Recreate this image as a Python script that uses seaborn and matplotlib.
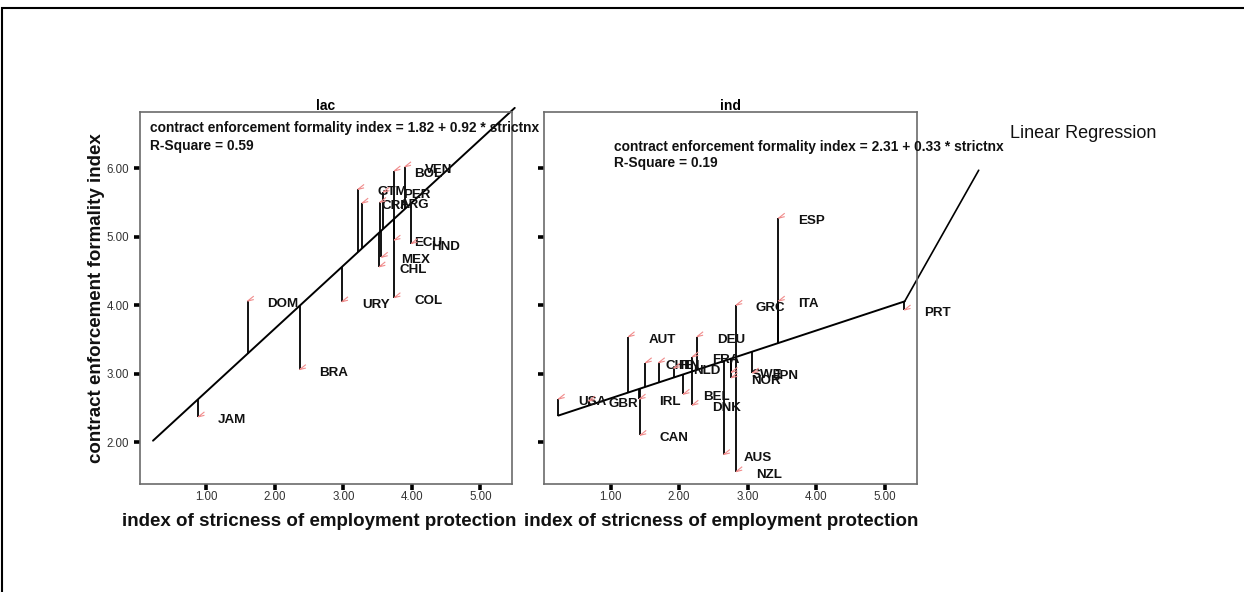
import numpy as np
import pandas as pd
import matplotlib
matplotlib.use("Agg")
import matplotlib.pyplot as plt
from matplotlib.path import Path
from matplotlib.patches import Rectangle
import seaborn as sns

# lac panel
lac_codes = ["JAM", "DOM", "BRA", "URY", "COL", "CHL", "MEX", "ECU", "HND",
             "ARG", "CRI", "GTM", "PER", "BOL", "VEN"]
lac_x = [0.88, 1.60, 2.36, 2.975, 3.74, 3.52, 3.555, 3.74, 3.99,
         3.53, 3.27, 3.21, 3.58, 3.74, 3.895]
lac_y = [2.37, 4.06, 3.06, 4.05, 4.11, 4.56, 4.70, 4.95, 4.90,
         5.50, 5.49, 5.69, 5.65, 5.96, 6.02]

# ind panel
ind_codes = ["USA", "GBR", "AUT", "IRL", "CAN", "CHE", "FIN", "NLD", "BEL",
             "FRA", "DNK", "DEU", "AUS", "NZL", "GRC", "SWE", "NOR", "JPN",
             "ITA", "ESP", "PRT"]
ind_x = [0.24, 0.68, 1.26, 1.42, 1.43, 1.51, 1.70, 1.92, 2.06,
         2.19, 2.19, 2.26, 2.65, 2.83, 2.83, 2.76, 2.76, 3.07,
         3.45, 3.45, 5.285]
ind_y = [2.63, 2.60, 3.54, 2.63, 2.10, 3.16, 3.16, 3.08, 2.70,
         3.245, 2.54, 3.54, 1.82, 1.57, 4.00, 3.02, 2.94, 3.01,
         4.06, 5.27, 3.93]

# regression: intercept, slope, r-square
lac_fit = [1.82, 0.92, 0.59]
ind_fit = [2.31, 0.33, 0.19]
lac_span = [0.22, 5.50]
ind_span = [0.24, 5.29]

ticks_x = [1, 2, 3, 4, 5]
ticks_y = [2, 3, 4, 5, 6]

sns.set_style("white")
plt.rcParams["font.family"] = ["Liberation Sans", "DejaVu Sans"]
plt.rcParams["text.color"] = "black"

W, H = 1244, 592
fig = plt.figure(figsize=(W / 100, H / 100), dpi=100)
ax1 = fig.add_axes([140 / W, 1 - 484 / H, 372 / W, 372 / H])
ax2 = fig.add_axes([544 / W, 1 - 484 / H, 373 / W, 372 / H], sharey=ax1)

pink = "#f08c8c"
mark = Path([(0, 0), (1, 0.8), (0, 0), (1, 0.25)],
            [Path.MOVETO, Path.LINETO, Path.MOVETO, Path.LINETO])

panels = [
    (ax1, "lac", lac_codes, lac_x, lac_y, lac_fit, lac_span, 0.027, 0.956, 0.048),
    (ax2, "ind", ind_codes, ind_x, ind_y, ind_fit, ind_span, 0.188, 0.907, 0.043),
]

for ax, name, codes, xs, ys, fit, span, tx, ty, gap in panels:
    df = pd.DataFrame({"x": xs, "y": ys, "code": codes})
    a, b, r2 = fit
    fitted = a + b * df["x"]

    # residual drop lines
    ax.vlines(df["x"], df["y"], fitted, colors="k", lw=1.3, zorder=2)

    # fit line
    sx = np.array(span)
    sns.lineplot(x=sx, y=a + b * sx, ax=ax, color="k", lw=1.4)
    ax.lines[-1].set_clip_on(False)

    sns.scatterplot(data=df, x="x", y="y", ax=ax, marker=mark, s=80,
                    color=pink, edgecolor=pink, linewidth=0.8, zorder=4)
    ax.collections[-1].set_facecolor("none")

    for c, x, y in zip(codes, xs, ys):
        ax.annotate(c, (x, y), xytext=(14.4, -2.2), textcoords="offset points",
                    fontsize=9.6, fontweight="bold", ha="left", va="center",
                    color="#111111")

    ax.text(tx, ty, f"contract enforcement formality index = {a:.2f} + {b:.2f} * strictnx",
            transform=ax.transAxes, fontsize=9.9, fontweight="bold", va="center",
            color="#111111")
    ax.text(tx, ty - gap, f"R-Square = {r2:.2f}", transform=ax.transAxes,
            fontsize=9.9, fontweight="bold", va="center", color="#111111")

    ax.set_title(name, fontsize=10, pad=1.5, fontweight="bold",
                 family=["Liberation Sans Narrow", "Liberation Sans"])
    ax.set_xlim(0.03, 5.46)
    ax.set_ylim(1.39, 6.82)
    ax.set_xticks(ticks_x)
    ax.set_xticklabels([f"{t:.2f}" for t in ticks_x])
    ax.set_yticks(ticks_y)
    ax.set_yticklabels([f"{t:.2f}" for t in ticks_y])
    ax.tick_params(axis="both", direction="out", length=4, width=2.6,
                   color="k", labelcolor="#333333", labelsize=8.3,
                   bottom=True, left=True)
    ax.tick_params(axis="x", pad=1)
    ax.tick_params(axis="y", pad=4)
    for lab in ax.get_xticklabels() + ax.get_yticklabels():
        lab.set_family(["Liberation Sans Narrow", "Liberation Sans"])
    for sp in ax.spines.values():
        sp.set_visible(True)
        sp.set_color("#6b6b6b")
        sp.set_linewidth(1.2)

    ax.set_xlabel("index of stricness of employment protection", fontsize=13.5,
                  fontweight="bold", va="center", color="#111111")
    ax.set_ylabel("")

ax1.xaxis.set_label_coords(0.4825, (484 - 521) / 372)
ax2.xaxis.set_label_coords(0.476, (484 - 521) / 372)
ax2.set_xlim(0.03, 5.47)
ax2.tick_params(axis="y", labelleft=False)

ax1.set_ylabel("contract enforcement formality index", fontsize=13.5,
               fontweight="bold", va="center", color="#111111")
ax1.yaxis.set_label_coords((97 - 140) / 372, 0.5)

# callout for the fit line
a, b, _ = ind_fit
ax2.plot([ind_span[1], 6.37], [a + b * ind_span[1], 5.97], color="k", lw=1.2,
         clip_on=False)
ax2.text(6.83, 6.50, "Linear Regression", fontsize=13, va="center", ha="left",
         color="#111111")

fig.patches.append(Rectangle((2 / W, -0.05), 1.1, 1 - 8 / H + 0.05,
                             transform=fig.transFigure, fill=False,
                             ec="k", lw=1.5))

fig.savefig("out.png", dpi=100)
